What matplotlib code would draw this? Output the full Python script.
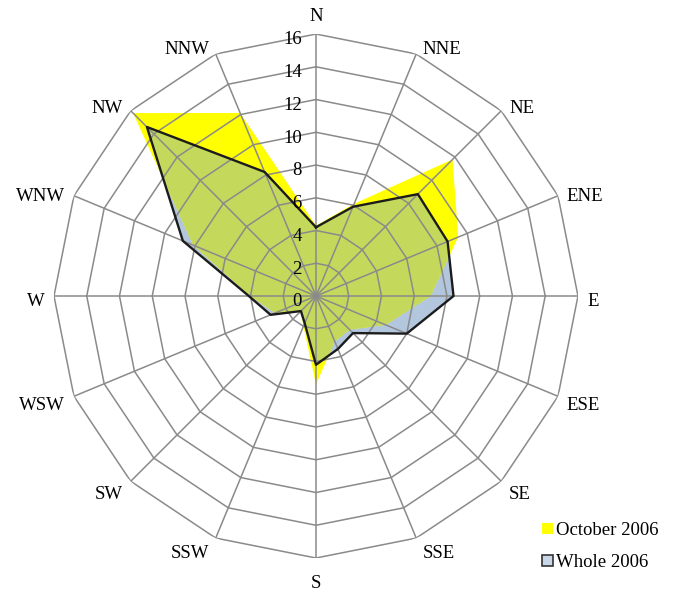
import numpy as np
import matplotlib.pyplot as plt
from matplotlib.patches import Patch

plt.rcParams['font.family'] = ['Liberation Serif', 'DejaVu Serif']

# wind directions, clockwise from north
directions = ['N', 'NNE', 'NE', 'ENE', 'E', 'ESE', 'SE', 'SSE',
              'S', 'SSW', 'SW', 'WSW', 'W', 'WNW', 'NW', 'NNW']
october_2006 = [4.3, 6.1, 11.8, 9.4, 7.0, 4.6, 2.9, 3.0,
                5.4, 2.0, 1.3, 2.7, 4.0, 8.1, 15.8, 12.1]
whole_2006 = [4.2, 5.9, 8.8, 8.7, 8.4, 6.0, 3.2, 3.5,
              4.2, 1.8, 1.3, 3.0, 4.1, 8.8, 14.6, 8.2]
rings = [0, 2, 4, 6, 8, 10, 12, 14, 16]

yellow = '#ffff00'
blue = '#b2c6de'
green = '#c4d95c'
grid_c = '#8a8a8a'
fs = 13.5

n = len(directions)
theta = np.linspace(0, 2 * np.pi, n, endpoint=False)
theta_c = np.append(theta, theta[0])
oct_c = np.append(october_2006, october_2006[0])
whole_c = np.append(whole_2006, whole_2006[0])

fig = plt.figure(figsize=(6.73, 5.93), dpi=100)
ax = fig.add_axes([0.0802, 0.059, 0.7786, 0.8836], projection='polar')
ax.set_theta_zero_location('N')
ax.set_theta_direction(-1)
ax.set_ylim(0, 16)
ax.grid(False)
ax.spines['polar'].set_visible(False)
ax.set_yticks([])
ax.set_xticks([])

# fills: whole year, october on top, overlap in green
ax.fill(theta_c, whole_c, color=blue, lw=0, zorder=1)
oct_patch = ax.fill(theta_c, oct_c, color=yellow, lw=0, zorder=2)[0]
over = ax.fill(theta_c, whole_c, color=green, lw=0, zorder=3)[0]
over.set_clip_path(oct_patch)

# polygon grid drawn over the fills
for r in rings[1:]:
    ax.plot(theta_c, np.full(n + 1, r), color=grid_c, lw=1.1, zorder=4)
for t in theta:
    ax.plot([t, t], [0, 16], color=grid_c, lw=1.1, zorder=4)

ax.plot(theta_c, whole_c, color='#1c1c1c', lw=1.7, zorder=5)

# radial values, left of the north axis
for r in rings:
    ax.annotate(str(r), xy=(0, r), xytext=(-14, -10.3), textcoords='offset pixels',
                ha='right', va='baseline', fontsize=fs, zorder=6)

# direction labels beside the outer vertices
half_cap = 6.2
for t, lab in zip(theta, directions):
    s, c = np.sin(t), np.cos(t)
    if abs(s) < 1e-6:
        dx, ha = 0, 'center'
        cy = -19.5 if c > 0 else 23.4
    else:
        dx = np.sign(s) * (5 + 4 * abs(s))
        ha = 'left' if s > 0 else 'right'
        cy = 3.7 - 11.1 * c
    ax.annotate(lab, xy=(t, 16), xytext=(dx, -(cy + half_cap)),
                textcoords='offset pixels', ha=ha, va='baseline',
                fontsize=fs, annotation_clip=False)

handles = [Patch(facecolor=yellow, edgecolor='none'),
           Patch(facecolor='#c8d6ea', edgecolor='#333333', lw=1.2)]
fig.legend(handles, ['October 2006', 'Whole 2006'], loc='upper left',
           bbox_to_anchor=(0.792, 0.135), frameon=False, fontsize=fs,
           handlelength=0.55, handleheight=0.55, handletextpad=0.2,
           labelspacing=0.8, borderpad=0)

fig.savefig('out.png', dpi=100)
